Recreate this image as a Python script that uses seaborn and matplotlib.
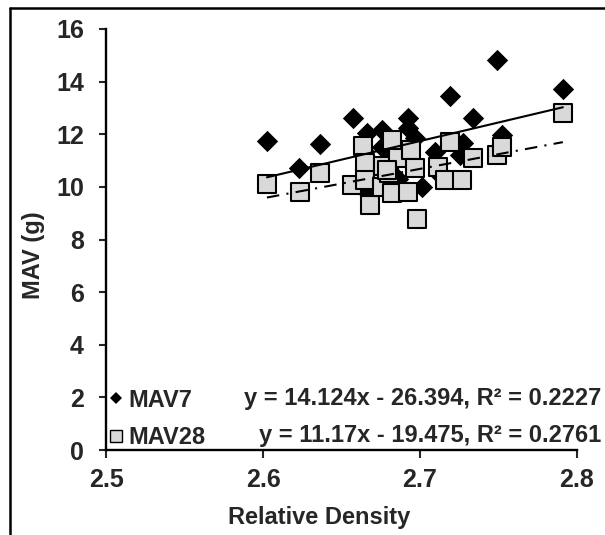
import numpy as np
import pandas as pd
import matplotlib
matplotlib.use("Agg")
import matplotlib.pyplot as plt
from matplotlib.lines import Line2D
import seaborn as sns

# ---- data ----
mav7_density = [2.6025, 2.623, 2.636, 2.6575, 2.666, 2.6756, 2.6756, 2.6925, 2.6925,
                2.697, 2.701, 2.666, 2.680, 2.7096, 2.719, 2.7276, 2.7255, 2.734,
                2.7488, 2.752, 2.791, 2.712, 2.686, 2.664]
mav7_value = [11.76, 10.73, 11.63, 12.61, 12.04, 12.17, 11.53, 12.61, 12.24,
              11.86, 9.98, 9.82, 11.0, 11.34, 13.46, 11.66, 11.22, 12.61,
              14.83, 11.98, 13.71, 10.5, 10.3, 11.4]

mav28_density = [2.6025, 2.6236, 2.636, 2.6565, 2.664, 2.665, 2.665, 2.668, 2.6766,
                 2.6756, 2.680, 2.682, 2.682, 2.686, 2.679, 2.6925, 2.694, 2.697,
                 2.698, 2.7117, 2.716, 2.7191, 2.727, 2.734, 2.749, 2.752, 2.791]
mav28_value = [10.10, 9.82, 10.52, 10.08, 11.56, 10.90, 10.27, 9.32, 10.78,
               10.01, 10.52, 11.79, 9.76, 11.09, 10.65, 9.82, 11.41, 10.71,
               8.77, 10.77, 10.27, 11.69, 10.27, 11.09, 11.22, 11.53, 12.80]

trend7_slope, trend7_intercept = 14.124, -26.394
trend28_slope, trend28_intercept = 11.17, -19.475
eq7_label = "y = 14.124x - 26.394, R² = 0.2227"
eq28_label = "y = 11.17x - 19.475, R² = 0.2761"
series_labels = ["MAV7", "MAV28"]

x_ticks = [2.5, 2.6, 2.7, 2.8]
y_ticks = [0, 2, 4, 6, 8, 10, 12, 14, 16]
x_label = "Relative Density"
y_label = "MAV (g)"

# ---- style ----
sns.set_style("ticks")
plt.rcParams["font.family"] = ["Liberation Sans", "DejaVu Sans"]
plt.rcParams["font.weight"] = "bold"

W, H = 605, 535
fig = plt.figure(figsize=(W / 100, H / 100), dpi=100)
fig.patch.set_facecolor("white")
ax = fig.add_axes([106 / W, 85 / H, 471 / W, 421 / H])

df7 = pd.DataFrame({"density": mav7_density, "mav": mav7_value})
df28 = pd.DataFrame({"density": mav28_density, "mav": mav28_value})

sns.scatterplot(data=df7, x="density", y="mav", marker="D", s=118, color="black",
                linewidth=0, ax=ax, zorder=2, legend=False)
sns.scatterplot(data=df28, x="density", y="mav", marker="s", s=168, color="#D9D9D9",
                edgecolor="black", linewidth=1.5, ax=ax, zorder=3, legend=False)

x7 = np.array([min(mav7_density), max(mav7_density)])
x28 = np.array([min(mav28_density), max(mav28_density)])
sns.lineplot(x=x7, y=trend7_slope * x7 + trend7_intercept, color="black",
             linewidth=1.5, ax=ax, zorder=4)
sns.lineplot(x=x28, y=trend28_slope * x28 + trend28_intercept, color="black",
             linewidth=1.5, linestyle=(0, (6, 3.5, 1, 3.5)), ax=ax, zorder=4)

ax.set_xlim(2.5, 2.8)
ax.set_ylim(0, 16)
ax.set_xticks(x_ticks)
ax.set_xticklabels([f"{v:.1f}" for v in x_ticks])
ax.set_yticks(y_ticks)
ax.set_yticklabels([str(v) for v in y_ticks])
ax.tick_params(axis="x", direction="out", length=6, width=1.5, pad=7, labelsize=18)
ax.tick_params(axis="y", direction="out", length=5, width=1.5, pad=11, labelsize=18)
for lab in ax.get_xticklabels() + ax.get_yticklabels():
    lab.set_fontweight("bold")
sns.despine(ax=ax)
for sp in ("left", "bottom"):
    ax.spines[sp].set_linewidth(1.7)
    ax.spines[sp].set_color("black")

ax.set_xlabel(x_label, fontsize=17, fontweight="bold")
ax.set_ylabel(y_label, fontsize=17, fontweight="bold")
ax.xaxis.set_label_coords(0.453, -0.134)
ax.yaxis.set_label_coords(-0.13, 0.463)

handles = [
    Line2D([], [], marker="D", color="black", linestyle="", markersize=6.5, markeredgewidth=0),
    Line2D([], [], marker="s", markerfacecolor="#D9D9D9", markeredgecolor="black",
           linestyle="", markersize=8.8, markeredgewidth=1.0),
]
leg = ax.legend(handles, series_labels, loc="upper left", bbox_to_anchor=(0.0064, 0.146),
                frameon=False, prop={"size": 17, "weight": "bold"}, handlelength=0.6,
                handletextpad=0.2, borderpad=0, borderaxespad=0, labelspacing=0.62)

fig.text(601 / W, 1 - 405 / H, eq7_label, ha="right", va="baseline", fontsize=17,
         fontweight="bold")
fig.text(601 / W, 1 - 442 / H, eq28_label, ha="right", va="baseline", fontsize=17,
         fontweight="bold")

# outer chart frame (left and top edges visible)
fig.add_artist(Line2D([10 / W, 10 / W], [0, 1 - 7.5 / H], transform=fig.transFigure,
                      color="black", linewidth=1.8))
fig.add_artist(Line2D([10 / W, 1], [1 - 7.5 / H, 1 - 7.5 / H], transform=fig.transFigure,
                      color="black", linewidth=1.8))

fig.savefig("out.png", dpi=100)
